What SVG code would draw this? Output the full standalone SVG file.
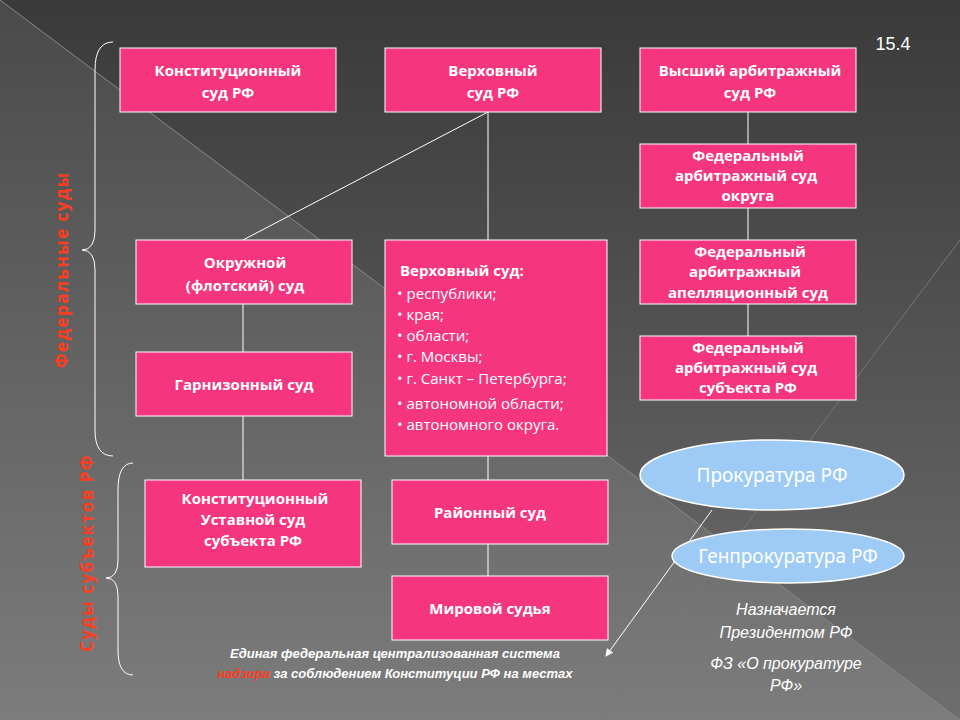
<svg xmlns="http://www.w3.org/2000/svg" width="960" height="720" viewBox="0 0 960 720">
<defs>
<linearGradient id="bg" x1="0" y1="0" x2="0" y2="1"><stop offset="0" stop-color="#3a3a3a"/><stop offset="1" stop-color="#6e6e6e"/></linearGradient>
<linearGradient id="bg2" x1="0" y1="0" x2="0" y2="1"><stop offset="0" stop-color="#4a4a4a"/><stop offset="1" stop-color="#7c7c7c"/></linearGradient>
<marker id="ah" markerWidth="8" markerHeight="8" refX="7" refY="4" orient="auto" markerUnits="userSpaceOnUse"><path d="M0,0 L8,4 L0,8 z" fill="#fff"/></marker>
<style>
.box{fill:#f5367e;stroke:#fff;stroke-width:1}
.t{font-family:"Open Sans","Liberation Sans",sans-serif;font-weight:bold;font-size:15px;fill:#fff;text-anchor:middle}
.l{font-family:"Open Sans","Liberation Sans",sans-serif;font-size:15px;fill:#fff}
.ell{fill:#9ecbf5;stroke:#fff;stroke-width:1.5}
.et{font-family:"Noto Sans","Liberation Sans",sans-serif;font-size:19px;fill:#fff;text-anchor:middle}
.c{stroke:#fff;stroke-width:1;fill:none}
.side{font-family:"Open Sans","Liberation Sans",sans-serif;font-weight:bold;font-size:17px;fill:#ff3d1f;letter-spacing:1.5px}
.it{font-family:"Liberation Sans",sans-serif;font-style:italic;font-size:16px;fill:#fff;text-anchor:middle}
.b{font-family:"Liberation Sans",sans-serif;font-weight:bold;font-style:italic;font-size:13px;fill:#fff;text-anchor:middle}
</style>
</defs>
<rect width="960" height="720" fill="url(#bg)"/>
<polygon points="0,0 960,720 0,720" fill="url(#bg2)"/>
<line x1="0" y1="0" x2="960" y2="720" stroke="#888" stroke-width="1"/>
<line x1="960" y1="240" x2="600" y2="720" stroke="#777" stroke-width="1"/>
<text x="893" y="50" font-family="Liberation Sans,sans-serif" font-size="18" fill="#fff" text-anchor="middle">15.4</text>
<g id="connectors" class="c">
<line x1="488" y1="112" x2="488" y2="240"/>
<line x1="488" y1="112" x2="243" y2="240"/>
<line x1="488" y1="456" x2="488" y2="480"/>
<line x1="488" y1="544" x2="488" y2="576"/>
<line x1="243" y1="304" x2="243" y2="352"/>
<line x1="243" y1="416" x2="243" y2="480"/>
<line x1="748" y1="112" x2="748" y2="144"/>
<line x1="748" y1="208" x2="748" y2="240"/>
<line x1="748" y1="304" x2="748" y2="336"/>
<line x1="712" y1="510" x2="606" y2="656" marker-end="url(#ah)"/>
<path d="M113,42 Q95,42 95,70 L95,230 Q95,250 82,250 Q95,250 95,270 L95,430 Q95,456 113,456"/>
<path d="M133,463 Q118,463 118,490 L118,560 Q118,578 106,578 Q118,578 118,596 L118,650 Q118,675 133,675"/>
</g>
<text class="side" transform="translate(68,368) rotate(-90)">Федеральные  суды</text>
<text class="side" transform="translate(93,652) rotate(-90)">Суды субъектов  РФ</text>
<g id="n1"><rect class="box" x="120" y="48" width="216" height="64"/><text class="t" x="228" y="76">Конституционный</text><text class="t" x="228" y="98">суд РФ</text></g>
<g id="n2"><rect class="box" x="385" y="48" width="216" height="64"/><text class="t" x="493" y="76">Верховный</text><text class="t" x="493" y="98">суд РФ</text></g>
<g id="n3"><rect class="box" x="640" y="48" width="216" height="64"/><text class="t" x="750" y="76">Высший арбитражный</text><text class="t" x="750" y="98">суд РФ</text></g>
<g id="n4"><rect class="box" x="640" y="144" width="216" height="64"/><text class="t" x="748" y="161">Федеральный</text><text class="t" x="746" y="181">арбитражный суд</text><text class="t" x="748" y="201">округа</text></g>
<g id="n5"><rect class="box" x="640" y="240" width="216" height="64"/><text class="t" x="750" y="257">Федеральный</text><text class="t" x="745" y="277">арбитражный</text><text class="t" x="748" y="298">апелляционный суд</text></g>
<g id="n6"><rect class="box" x="640" y="336" width="216" height="64"/><text class="t" x="748" y="353">Федеральный</text><text class="t" x="746" y="373">арбитражный суд</text><text class="t" x="748" y="393">субъекта РФ</text></g>
<g id="n7"><rect class="box" x="136" y="240" width="216" height="64"/><text class="t" x="245" y="268">Окружной</text><text class="t" x="245" y="291">(флотский) суд</text></g>
<g id="n8"><rect class="box" x="136" y="352" width="216" height="64"/><text class="t" x="244" y="390">Гарнизонный суд</text></g>
<g id="n9"><rect class="box" x="385" y="240" width="222" height="216"/>
<text class="t" x="400" y="276" style="text-anchor:start">Верховный суд:</text>
<text class="l" x="397" y="299">• республики;</text>
<text class="l" x="397" y="320">• края;</text>
<text class="l" x="397" y="341">• области;</text>
<text class="l" x="397" y="362">• г. Москвы;</text>
<text class="l" x="397" y="384">• г. Санкт – Петербурга;</text>
<text class="l" x="397" y="409">• автономной области;</text>
<text class="l" x="397" y="430">• автономного округа.</text></g>
<g id="n10"><rect class="box" x="145" y="480" width="216" height="87"/><text class="t" x="255" y="504">Конституционный</text><text class="t" x="253" y="525">Уставной суд</text><text class="t" x="253" y="546">субъекта РФ</text></g>
<g id="n11"><rect class="box" x="392" y="480" width="216" height="64"/><text class="t" x="490" y="518">Районный суд</text></g>
<g id="n12"><rect class="box" x="392" y="576" width="216" height="64"/><text class="t" x="490" y="614">Мировой судья</text></g>
<g id="e1"><ellipse class="ell" cx="772" cy="475" rx="132" ry="35"/><text class="et" x="772" y="482">Прокуратура РФ</text></g>
<g id="e2"><ellipse class="ell" cx="788" cy="556" rx="116" ry="27"/><text class="et" x="788" y="563">Генпрокуратура РФ</text></g>
<text class="it" x="786" y="615">Назначается</text>
<text class="it" x="786" y="638">Президентом РФ</text>
<text class="it" x="786" y="669">ФЗ «О прокуратуре</text>
<text class="it" x="786" y="691">РФ»</text>
<text class="b" x="395" y="658">Единая федеральная централизованная система</text>
<text class="b" x="395" y="678"><tspan fill="#ff3d1f">надзора</tspan> за соблюдением Конституции РФ на местах</text>
</svg>
